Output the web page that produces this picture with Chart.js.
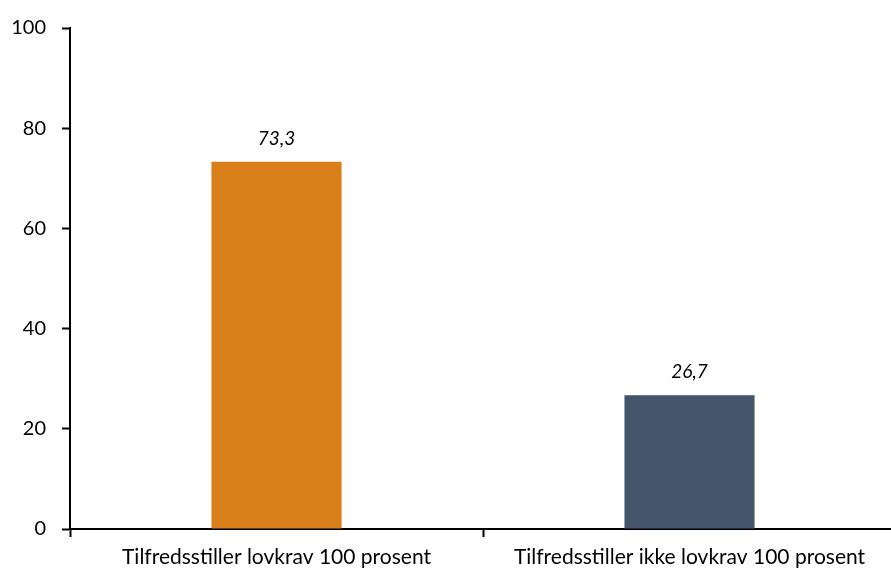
<!DOCTYPE html>
<html lang="no">
<head>
<meta charset="utf-8">
<title>Lovkrav 100 prosent</title>
<script src="https://cdn.jsdelivr.net/npm/chart.js@4.4.1/dist/chart.umd.min.js"></script>
<style>
    html, body { margin: 0; padding: 0; background: #fff; overflow: hidden; }
    #lovkravChart { display: block; }
</style>
</head>
<body>
<canvas id="lovkravChart" width="900" height="569"></canvas>
<script>
// Data
const categories = ["Tilfredsstiller lovkrav 100 prosent", "Tilfredsstiller ikke lovkrav 100 prosent"];
const values = [73.3, 26.7];
const barColors = ["#D97F19", "#44546A"];
const yTicks = [0, 20, 40, 60, 80, 100];

const FONT = "Lato, 'Open Sans', sans-serif";

// Format tall med komma (norsk)
function formatValue(v) {
    return v.toLocaleString("nb-NO", { minimumFractionDigits: 1, maximumFractionDigits: 1 });
}

// Plugin: verdi over hver søyle (kursiv)
const valueLabels = {
    id: "valueLabels",
    afterDatasetsDraw(chart) {
        const ctx = chart.ctx;
        const meta = chart.getDatasetMeta(0);
        ctx.save();
        ctx.font = "italic 19px " + FONT;
        ctx.fillStyle = "#000";
        ctx.textAlign = "center";
        ctx.textBaseline = "middle";
        meta.data.forEach((bar, i) => {
            ctx.fillText(formatValue(values[i]), bar.x, bar.y - 23);
        });
        ctx.restore();
    }
};

const canvas = document.querySelector("#lovkravChart");

new Chart(canvas.getContext("2d"), {
    type: "bar",
    data: {
        labels: categories,
        datasets: [{
            data: values,
            backgroundColor: barColors,
            borderWidth: 0,
            categoryPercentage: 1,
            barPercentage: 0.315
        }]
    },
    options: {
        responsive: false,
        animation: false,
        devicePixelRatio: 1,
        layout: { padding: { top: 23, right: 4, left: 0, bottom: 0 } },
        plugins: {
            legend: { display: false },
            tooltip: { enabled: false }
        },
        scales: {
            x: {
                grid: {
                    drawOnChartArea: false,
                    drawTicks: true,
                    tickLength: 8,
                    tickWidth: 2,
                    color: "#000"
                },
                border: { display: true, color: "#000", width: 2 },
                ticks: {
                    color: "#000",
                    font: { family: FONT, size: 21 },
                    padding: 8,
                    maxRotation: 0
                },
                afterFit(scale) { scale.height = 40; }
            },
            y: {
                min: 0,
                max: 100,
                afterBuildTicks(scale) { scale.ticks = yTicks.map(v => ({ value: v })); },
                grid: {
                    drawOnChartArea: false,
                    drawTicks: true,
                    tickLength: 8,
                    tickWidth: 2,
                    color: "#000"
                },
                border: { display: true, color: "#000", width: 2 },
                ticks: {
                    color: "#000",
                    font: { family: FONT, size: 20 },
                    padding: 16
                },
                afterFit(scale) { scale.width = 70; }
            }
        }
    },
    plugins: [valueLabels]
});
</script>
</body>
</html>
